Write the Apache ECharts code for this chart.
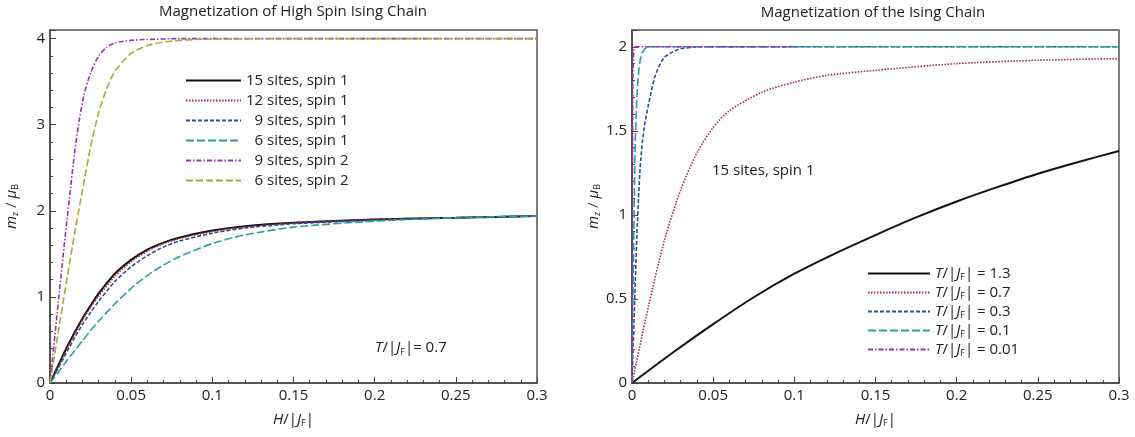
<!DOCTYPE html>
<html>
<head>
<meta charset="utf-8">
<script src="https://cdn.jsdelivr.net/npm/echarts@6/dist/echarts.min.js"></script>
<style>
html, body { margin: 0; padding: 0; background: #fff; }
#chart { width: 1135px; height: 437px; }
</style>
</head>
<body>
<div id="chart"></div>
<script>
// left panel: high spin chain, T/|JF| = 0.7
const hSpin1 = [0, 0.005, 0.01, 0.015, 0.02, 0.025, 0.03, 0.04, 0.05, 0.06, 0.07, 0.08, 0.1, 0.12, 0.15, 0.2, 0.25, 0.3];
const m15s1 = [0, 0.2, 0.4, 0.58, 0.75, 0.9, 1.04, 1.27, 1.43, 1.55, 1.63, 1.69, 1.77, 1.82, 1.86, 1.9, 1.92, 1.94];
const m12s1 = [0, 0.19, 0.38, 0.56, 0.73, 0.88, 1.01, 1.24, 1.41, 1.53, 1.62, 1.68, 1.76, 1.81, 1.86, 1.9, 1.92, 1.94];
const m9s1 = [0, 0.17, 0.35, 0.52, 0.68, 0.82, 0.95, 1.18, 1.35, 1.48, 1.58, 1.65, 1.74, 1.8, 1.85, 1.89, 1.92, 1.94];
const m6s1 = [0, 0.12, 0.25, 0.37, 0.49, 0.61, 0.72, 0.92, 1.1, 1.25, 1.37, 1.47, 1.62, 1.72, 1.81, 1.88, 1.92, 1.94];
const h9s2 = [0, 0.003, 0.006, 0.009, 0.012, 0.015, 0.018, 0.021, 0.025, 0.03, 0.035, 0.04, 0.05, 0.06, 0.08, 0.1, 0.2, 0.3];
const m9s2 = [0, 0.55, 1.1, 1.64, 2.15, 2.65, 3.05, 3.35, 3.6, 3.8, 3.9, 3.95, 3.98, 3.99, 4, 4, 4, 4];
const h6s2 = [0, 0.005, 0.01, 0.015, 0.02, 0.025, 0.03, 0.035, 0.04, 0.05, 0.06, 0.07, 0.08, 0.09, 0.1, 0.15, 0.2, 0.3];
const m6s2 = [0, 0.58, 1.16, 1.72, 2.24, 2.74, 3.14, 3.42, 3.62, 3.83, 3.92, 3.96, 3.98, 3.99, 3.995, 4, 4, 4];

// right panel: 15 sites, spin 1, several temperatures
const hT13 = [0, 0.025, 0.05, 0.075, 0.1, 0.125, 0.15, 0.175, 0.2, 0.225, 0.25, 0.275, 0.3];
const mT13 = [0, 0.18, 0.35, 0.51, 0.65, 0.77, 0.88, 0.985, 1.08, 1.165, 1.245, 1.315, 1.38];
const hT07 = [0, 0.01, 0.02, 0.03, 0.04, 0.05, 0.06, 0.08, 0.1, 0.12, 0.15, 0.2, 0.25, 0.3];
const mT07 = [0, 0.45, 0.85, 1.15, 1.37, 1.52, 1.62, 1.73, 1.79, 1.83, 1.86, 1.9, 1.92, 1.93];
const hT03 = [0, 0.001, 0.002, 0.003, 0.004, 0.005, 0.006, 0.007, 0.008, 0.009, 0.01, 0.012, 0.014, 0.016, 0.018, 0.02, 0.025, 0.03, 0.04, 0.05, 0.1, 0.2, 0.3];
const mT03 = [0, 0.3, 0.6, 0.88, 1.1, 1.28, 1.4, 1.48, 1.55, 1.6, 1.65, 1.74, 1.82, 1.87, 1.91, 1.94, 1.97, 1.99, 2, 2, 2, 2, 2];
const hT01 = [0, 0.0005, 0.001, 0.0015, 0.002, 0.003, 0.004, 0.005, 0.006, 0.008, 0.01, 0.02, 0.05, 0.1, 0.2, 0.3];
const mT01 = [0, 0.4, 0.8, 1.15, 1.45, 1.7, 1.84, 1.92, 1.96, 1.99, 2, 2, 2, 2, 2, 2];
const hT001 = [0, 0.0002, 0.0005, 0.001, 0.002, 0.005, 0.01, 0.05, 0.1];
const mT001 = [0, 1, 1.8, 1.98, 2, 2, 2, 2, 2];

const leftNames = ['15 sites, spin 1', '12 sites, spin 1', '\u20079 sites, spin 1', '\u20076 sites, spin 1', '\u20079 sites, spin 2', '\u20076 sites, spin 2'];
const rightNames = ['1.3', '0.7', '0.3', '0.1', '0.01'];

const pairs = (xs, ys) => xs.map((x, i) => [x, ys[i]]);

const cBlack = '#111111', cRed = '#a52a35', cBlue = '#2d4c9c', cTeal = '#2e9f9b', cPurple = '#9c2fb4', cOlive = '#a9a83a';
const fontFam = '"Open Sans", "Noto Sans", sans-serif';

const myChart = echarts.init(document.getElementById('chart'));

function line(name, data, xi, color, type, width, smooth) {
    return {
        name: name,
        type: 'line',
        xAxisIndex: xi,
        yAxisIndex: xi,
        data: data,
        showSymbol: false,
        symbol: 'none',
        smooth: smooth === undefined ? 0.25 : smooth,
        lineStyle: { color: color, width: width || 1.6, type: type },
        itemStyle: { color: color }
    };
}

const subRich = {
    i: { fontStyle: 'italic', fontSize: 15, fontFamily: fontFam, color: '#222' },
    s: { fontSize: 9, fontFamily: fontFam, color: '#222', padding: [8, 0, 0, 0] }
};

const xAxisBase = {
    type: 'value',
    min: 0,
    max: 0.3,
    interval: 0.05,
    name: '{i|H}/|{i|J}{s|F}|',
    nameLocation: 'middle',
    nameGap: 28,
    nameTextStyle: { color: '#222', fontSize: 15, fontFamily: fontFam, rich: subRich },
    axisLine: { lineStyle: { color: '#444', width: 1.5 } },
    axisTick: { inside: true, length: 6, lineStyle: { color: '#444' } },
    minorTick: { show: true, splitNumber: 5, length: 3, lineStyle: { color: '#444' } },
    axisLabel: { color: '#222', fontSize: 15, fontFamily: fontFam, margin: 5 },
    splitLine: { show: false }
};

function yAxisBase(max, interval) {
    return {
        type: 'value',
        min: 0,
        max: max,
        interval: interval,
        name: '{i|m}{s|z} / {i|μ}{s|B}',
        nameLocation: 'middle',
        nameRotate: 90,
        nameGap: 30,
        nameTextStyle: { color: '#222', fontSize: 15, fontFamily: fontFam, rich: subRich },
        axisLine: { lineStyle: { color: '#444', width: 1.5 } },
        axisTick: { inside: true, length: 6, lineStyle: { color: '#444' } },
        minorTick: { show: true, splitNumber: 5, length: 3, lineStyle: { color: '#444' } },
        axisLabel: {
            color: '#222', fontSize: 15, fontFamily: fontFam, margin: 5,
            formatter: function (v) {
                const k = Math.round(v / interval);
                return Math.abs(k * interval - v) < 1e-6 ? String(v) : '';
            }
        },
        splitLine: { show: false }
    };
}

const legendText = { color: '#222', fontSize: 15, fontFamily: fontFam, rich: subRich };

const option = {
    animation: false,
    textStyle: { fontFamily: fontFam },
    grid: [
        { left: 50, top: 30, width: 487, height: 353, show: true, borderColor: '#555', borderWidth: 1.5 },
        { left: 632, top: 30, width: 487, height: 353, show: true, borderColor: '#555', borderWidth: 1.5 }
    ],
    xAxis: [
        Object.assign({ gridIndex: 0 }, xAxisBase),
        Object.assign({ gridIndex: 1 }, xAxisBase)
    ],
    yAxis: [
        Object.assign({ gridIndex: 0 }, yAxisBase(4.1, 1)),
        Object.assign({ gridIndex: 1 }, yAxisBase(2.1, 0.5))
    ],
    legend: [
        {
            data: leftNames,
            orient: 'vertical',
            left: 180,
            top: 68,
            itemWidth: 55,
            itemHeight: 14,
            itemGap: 5,
            selectedMode: false,
            itemStyle: { opacity: 0 },
            textStyle: legendText
        },
        {
            data: rightNames,
            orient: 'vertical',
            left: 862,
            top: 261,
            itemWidth: 62,
            itemHeight: 14,
            itemGap: 3,
            selectedMode: false,
            itemStyle: { opacity: 0 },
            textStyle: legendText,
            formatter: function (n) {
                return '{i|T}/|{i|J}{s|F}| = ' + n;
            }
        }
    ],
    graphic: [
        { type: 'text', x: 293, y: 12, style: { text: 'Magnetization of High Spin Ising Chain', font: '15px ' + fontFam, fill: '#222', align: 'center', verticalAlign: 'middle' } },
        { type: 'text', x: 873, y: 13, style: { text: 'Magnetization of the Ising Chain', font: '15px ' + fontFam, fill: '#222', align: 'center', verticalAlign: 'middle' } },
        {
            type: 'text', x: 375, y: 348,
            style: { text: '{i|T}/|{i|J}{s|F}|= 0.7', font: '15px ' + fontFam, fill: '#222', verticalAlign: 'middle', rich: subRich }
        },
        { type: 'text', x: 712, y: 171, style: { text: '15 sites, spin 1', font: '15px ' + fontFam, fill: '#222', verticalAlign: 'middle' } }
    ],
    series: [
        line(leftNames[0], pairs(hSpin1, m15s1), 0, cBlack, 'solid', 2),
        line(leftNames[1], pairs(hSpin1, m12s1), 0, cRed, [1.5, 1.5]),
        line(leftNames[2], pairs(hSpin1, m9s1), 0, cBlue, [4, 2]),
        line(leftNames[3], pairs(hSpin1, m6s1), 0, cTeal, [8, 3]),
        line(leftNames[4], pairs(h9s2, m9s2), 0, cPurple, [5, 2, 1.5, 2]),
        line(leftNames[5], pairs(h6s2, m6s2), 0, cOlive, [7, 3]),
        line(rightNames[0], pairs(hT13, mT13), 1, cBlack, 'solid', 2),
        line(rightNames[1], pairs(hT07, mT07), 1, cRed, [1.5, 1.5]),
        line(rightNames[2], pairs(hT03, mT03), 1, cBlue, [4, 2], 1.6, false),
        line(rightNames[3], pairs(hT01, mT01), 1, cTeal, [8, 3], 1.6, false),
        line(rightNames[4], pairs(hT001, mT001), 1, cPurple, [5, 2, 1.5, 2], 1.6, false)
    ]
};

myChart.setOption(option);

window.addEventListener('resize', function () {
    myChart.resize();
});
</script>
</body>
</html>
